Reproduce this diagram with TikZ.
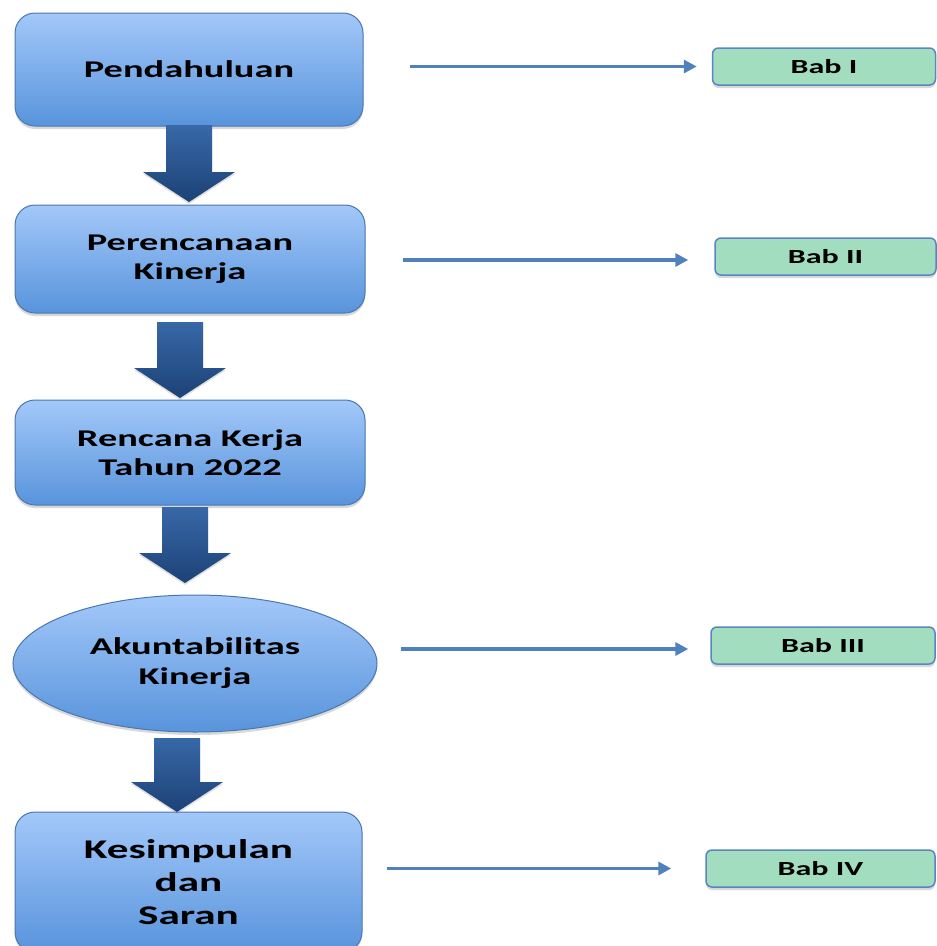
\documentclass[tikz,border=0pt]{standalone}
\usepackage{fontspec}
\newfontfamily\lblfont[FakeStretch=1.6]{Carlito}
\usetikzlibrary{arrows.meta,shapes.geometric,shadows}
\definecolor{boxtop}{RGB}{163,200,249}
\definecolor{boxbot}{RGB}{88,148,220}
\definecolor{boxline}{RGB}{74,118,178}
\definecolor{arrtop}{RGB}{56,104,168}
\definecolor{arrbot}{RGB}{28,66,118}
\definecolor{babfill}{RGB}{163,221,192}
\definecolor{babline}{RGB}{88,134,196}
\definecolor{connblue}{RGB}{79,129,189}
\tikzset{
  mainbox/.style={rectangle, rounded corners=20pt, draw=boxline, line width=1pt,
    top color=boxtop, bottom color=boxbot, align=center,
    drop shadow={opacity=0.3, shadow xshift=0pt, shadow yshift=-3pt},
    font=\lblfont\bfseries\fontsize{24}{29}\selectfont, inner sep=0pt},
  mainell/.style={ellipse, draw=boxline, line width=1pt,
    top color=boxtop, bottom color=boxbot, align=center,
    drop shadow={opacity=0.3, shadow xshift=0pt, shadow yshift=-3pt},
    font=\lblfont\bfseries\fontsize{24}{30}\selectfont, inner sep=0pt},
  babbox/.style={rectangle, rounded corners=6pt, draw=babline, line width=1.5pt,
    fill=babfill, align=center,
    drop shadow={opacity=0.3, shadow xshift=0pt, shadow yshift=-3pt},
    font=\lblfont\bfseries\fontsize{20}{24}\selectfont, inner sep=0pt},
  conn/.style={draw=connblue, line width=3.8pt,
    -{Triangle[length=13pt,width=13pt]}},
  blockarr/.style={top color=arrtop, bottom color=arrbot, draw=none,
    drop shadow={opacity=0.25, shadow xshift=0pt, shadow yshift=-2pt}}
}
\newcommand\dnarrow[4]{%
  \path[blockarr] (#1-23,#2) -- (#1+23,#2) -- (#1+23,#3) -- (#1+46,#3)
    -- (#1,#4) -- (#1-46,#3) -- (#1-23,#3) -- cycle;}
\begin{document}
\begin{tikzpicture}[x=1pt,y=-1pt]
\useasboundingbox (0,0) rectangle (937,946);
\clip (0,0) rectangle (937,946);
\fill[white] (0,0) rectangle (937,946);

% main boxes
\node[mainbox, minimum width=348pt, minimum height=113pt] (p1) at (189,69.5) {Pendahuluan};
\node[mainbox, minimum width=350pt, minimum height=108pt] (p2) at (190,259) {Perencanaan\\Kinerja};
\node[mainbox, minimum width=350pt, minimum height=105pt] (p3) at (190,452.5) {Rencana Kerja\\Tahun 2022};
\node[mainell, minimum width=364pt, minimum height=137pt] (p4) at (195,663.5) {Akuntabilitas\\Kinerja};
\node[mainbox, minimum width=347pt, minimum height=140pt,
      font=\lblfont\bfseries\fontsize{27}{33}\selectfont] (p5) at (188.5,882) {Kesimpulan\\dan\\Saran};

% block arrows between boxes
\dnarrow{189}{125}{172}{202}
\dnarrow{180}{322}{368}{398}
\dnarrow{185}{507}{553}{583}
\dnarrow{177}{738}{782}{812}

% Bab boxes
\node[babbox, minimum width=223pt, minimum height=37pt] (b1) at (824,66.5) {Bab I};
\node[babbox, minimum width=221pt, minimum height=37pt] (b2) at (825.5,256.5) {Bab II};
\node[babbox, minimum width=224pt, minimum height=37pt] (b3) at (823,645.5) {Bab III};
\node[babbox, minimum width=229pt, minimum height=37pt] (b4) at (820.5,868.5) {Bab IV};

% connectors
\draw[conn, shorten <=46pt, shorten >=15pt] (b1.west -| p1.east) -- (b1.west);
\draw[conn, shorten <=37pt, shorten >=26pt] (b2.west -| p2.east) ++(0,3.5) coordinate (s2) (s2) -- (s2 -| b2.west);
\draw[conn, shorten <=23pt, shorten >=22pt] (b3.west -| p4.east) ++(0,3.5) coordinate (s3) (s3) -- (s3 -| b3.west);
\draw[conn, shorten <=24pt, shorten >=34pt] (b4.west -| p5.east) -- (b4.west);
\end{tikzpicture}
\end{document}
